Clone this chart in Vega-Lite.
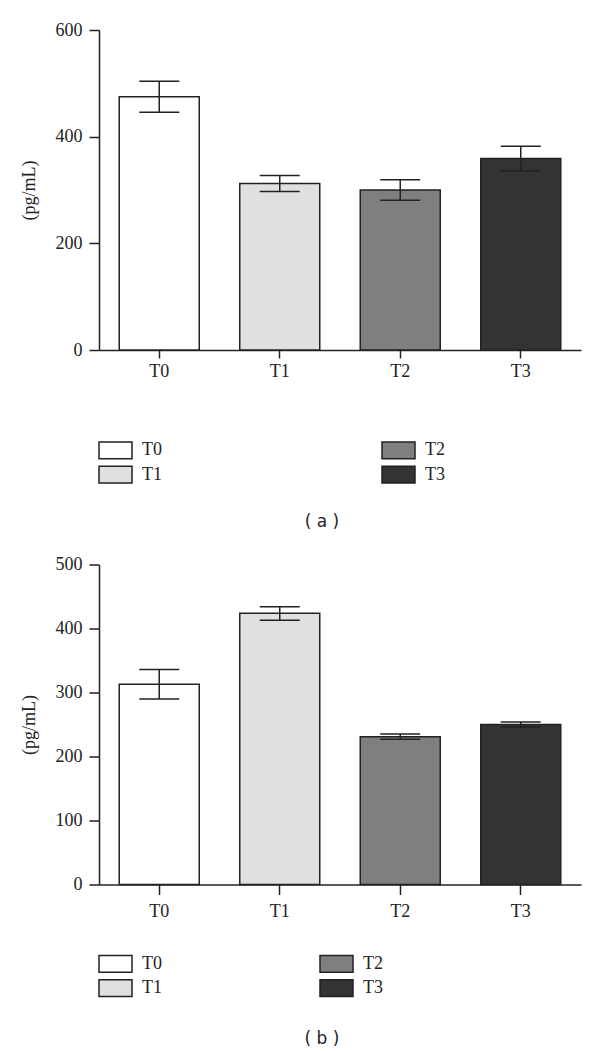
{
  "$schema": "https://vega.github.io/schema/vega-lite/v6.json",
  "background": "white",
  "padding": {"left": 20, "top": 21, "right": 5, "bottom": 2},
  "spacing": 25.5,
  "config": {
    "view": {"stroke": null},
    "axis": {"domainColor": "#222", "domainWidth": 1.5, "tickColor": "#222", "tickWidth": 1.5, "labelFont": "Liberation Serif", "labelFontSize": 18, "labelColor": "#222", "titleFont": "Liberation Serif", "titleFontSize": 18, "titleFontWeight": "normal", "titleColor": "#222", "grid": false},
    "legend": {"labelFont": "Liberation Serif", "labelFontSize": 18, "labelColor": "#222"},
    "title": {"font": "DejaVu Sans", "fontSize": 17, "fontWeight": "normal", "color": "#222"}
  },
  "resolve": {"scale": {"fill": "independent", "y": "independent"}, "legend": {"fill": "independent"}},
  "vconcat": [
    {
      "width": 482, "height": 320,
      "title": {"text": "( a )", "orient": "bottom", "anchor": "middle", "frame": "group", "dx": -18, "offset": 27.5},
      "data": {"values": [
        {"group": "T0", "mean": 475, "lo": 446, "hi": 504},
        {"group": "T1", "mean": 312, "lo": 297, "hi": 327},
        {"group": "T2", "mean": 300, "lo": 281, "hi": 319},
        {"group": "T3", "mean": 359, "lo": 336, "hi": 382}
      ]},
      "encoding": {
        "x": {"field": "group", "type": "nominal", "sort": ["T0", "T1", "T2", "T3"], "scale": {"paddingInner": 0.336, "paddingOuter": 0.168}, "axis": {"title": null, "labelAngle": 0, "tickSize": 8, "labelPadding": 4}}
      },
      "layer": [
        {
          "mark": {"type": "bar", "stroke": "#222", "strokeWidth": 1.5, "opacity": 1},
          "encoding": {
            "y": {"field": "mean", "type": "quantitative", "scale": {"domain": [0, 600]}, "axis": {"title": "(pg/mL)", "values": [0, 200, 400, 600], "tickSize": 10, "labelPadding": 7, "titlePadding": 17}},
            "fill": {"field": "group", "type": "nominal", "scale": {"domain": ["T0", "T1", "T2", "T3"], "range": ["#ffffff", "#e0e0e0", "#7f7f7f", "#333333"]},
              "legend": {"title": null, "orient": "none", "legendX": -1, "legendY": 409, "columns": 2, "columnPadding": 217, "rowPadding": 0.6, "symbolType": "M-1,-0.83H2.3V0.83H-1Z", "symbolSize": 400, "symbolStrokeColor": "#222", "symbolStrokeWidth": 1.5, "symbolOpacity": 1, "labelOffset": 22}}
          }
        },
        {
          "mark": {"type": "rule", "color": "#222", "strokeWidth": 1.5},
          "encoding": {"y": {"field": "lo", "type": "quantitative"}, "y2": {"field": "hi"}}
        },
        {
          "mark": {"type": "tick", "color": "#222", "thickness": 1.5, "size": 40, "opacity": 1},
          "encoding": {"y": {"field": "lo", "type": "quantitative"}}
        },
        {
          "mark": {"type": "tick", "color": "#222", "thickness": 1.5, "size": 40, "opacity": 1},
          "encoding": {"y": {"field": "hi", "type": "quantitative"}}
        }
      ]
    },
    {
      "width": 482, "height": 320,
      "title": {"text": "( b )", "orient": "bottom", "anchor": "middle", "frame": "group", "dx": -18, "offset": 31.5},
      "data": {"values": [
        {"group": "T0", "mean": 313, "lo": 290, "hi": 336},
        {"group": "T1", "mean": 424, "lo": 413, "hi": 434},
        {"group": "T2", "mean": 231, "lo": 227, "hi": 235},
        {"group": "T3", "mean": 250, "lo": 246, "hi": 254}
      ]},
      "encoding": {
        "x": {"field": "group", "type": "nominal", "sort": ["T0", "T1", "T2", "T3"], "scale": {"paddingInner": 0.336, "paddingOuter": 0.168}, "axis": {"title": null, "labelAngle": 0, "tickSize": 10, "labelPadding": 8}}
      },
      "layer": [
        {
          "mark": {"type": "bar", "stroke": "#222", "strokeWidth": 1.5, "opacity": 1},
          "encoding": {
            "y": {"field": "mean", "type": "quantitative", "scale": {"domain": [0, 500]}, "axis": {"title": "(pg/mL)", "values": [0, 100, 200, 300, 400, 500], "tickSize": 10, "labelPadding": 7, "titlePadding": 17}},
            "fill": {"field": "group", "type": "nominal", "scale": {"domain": ["T0", "T1", "T2", "T3"], "range": ["#ffffff", "#e0e0e0", "#7f7f7f", "#333333"]},
              "legend": {"title": null, "orient": "none", "legendX": -1, "legendY": 388, "columns": 2, "columnPadding": 155, "rowPadding": 0.6, "symbolType": "M-1,-0.83H2.3V0.83H-1Z", "symbolSize": 400, "symbolStrokeColor": "#222", "symbolStrokeWidth": 1.5, "symbolOpacity": 1, "labelOffset": 22}}
          }
        },
        {
          "mark": {"type": "rule", "color": "#222", "strokeWidth": 1.5},
          "encoding": {"y": {"field": "lo", "type": "quantitative"}, "y2": {"field": "hi"}}
        },
        {
          "mark": {"type": "tick", "color": "#222", "thickness": 1.5, "size": 40, "opacity": 1},
          "encoding": {"y": {"field": "lo", "type": "quantitative"}}
        },
        {
          "mark": {"type": "tick", "color": "#222", "thickness": 1.5, "size": 40, "opacity": 1},
          "encoding": {"y": {"field": "hi", "type": "quantitative"}}
        }
      ]
    }
  ]
}
